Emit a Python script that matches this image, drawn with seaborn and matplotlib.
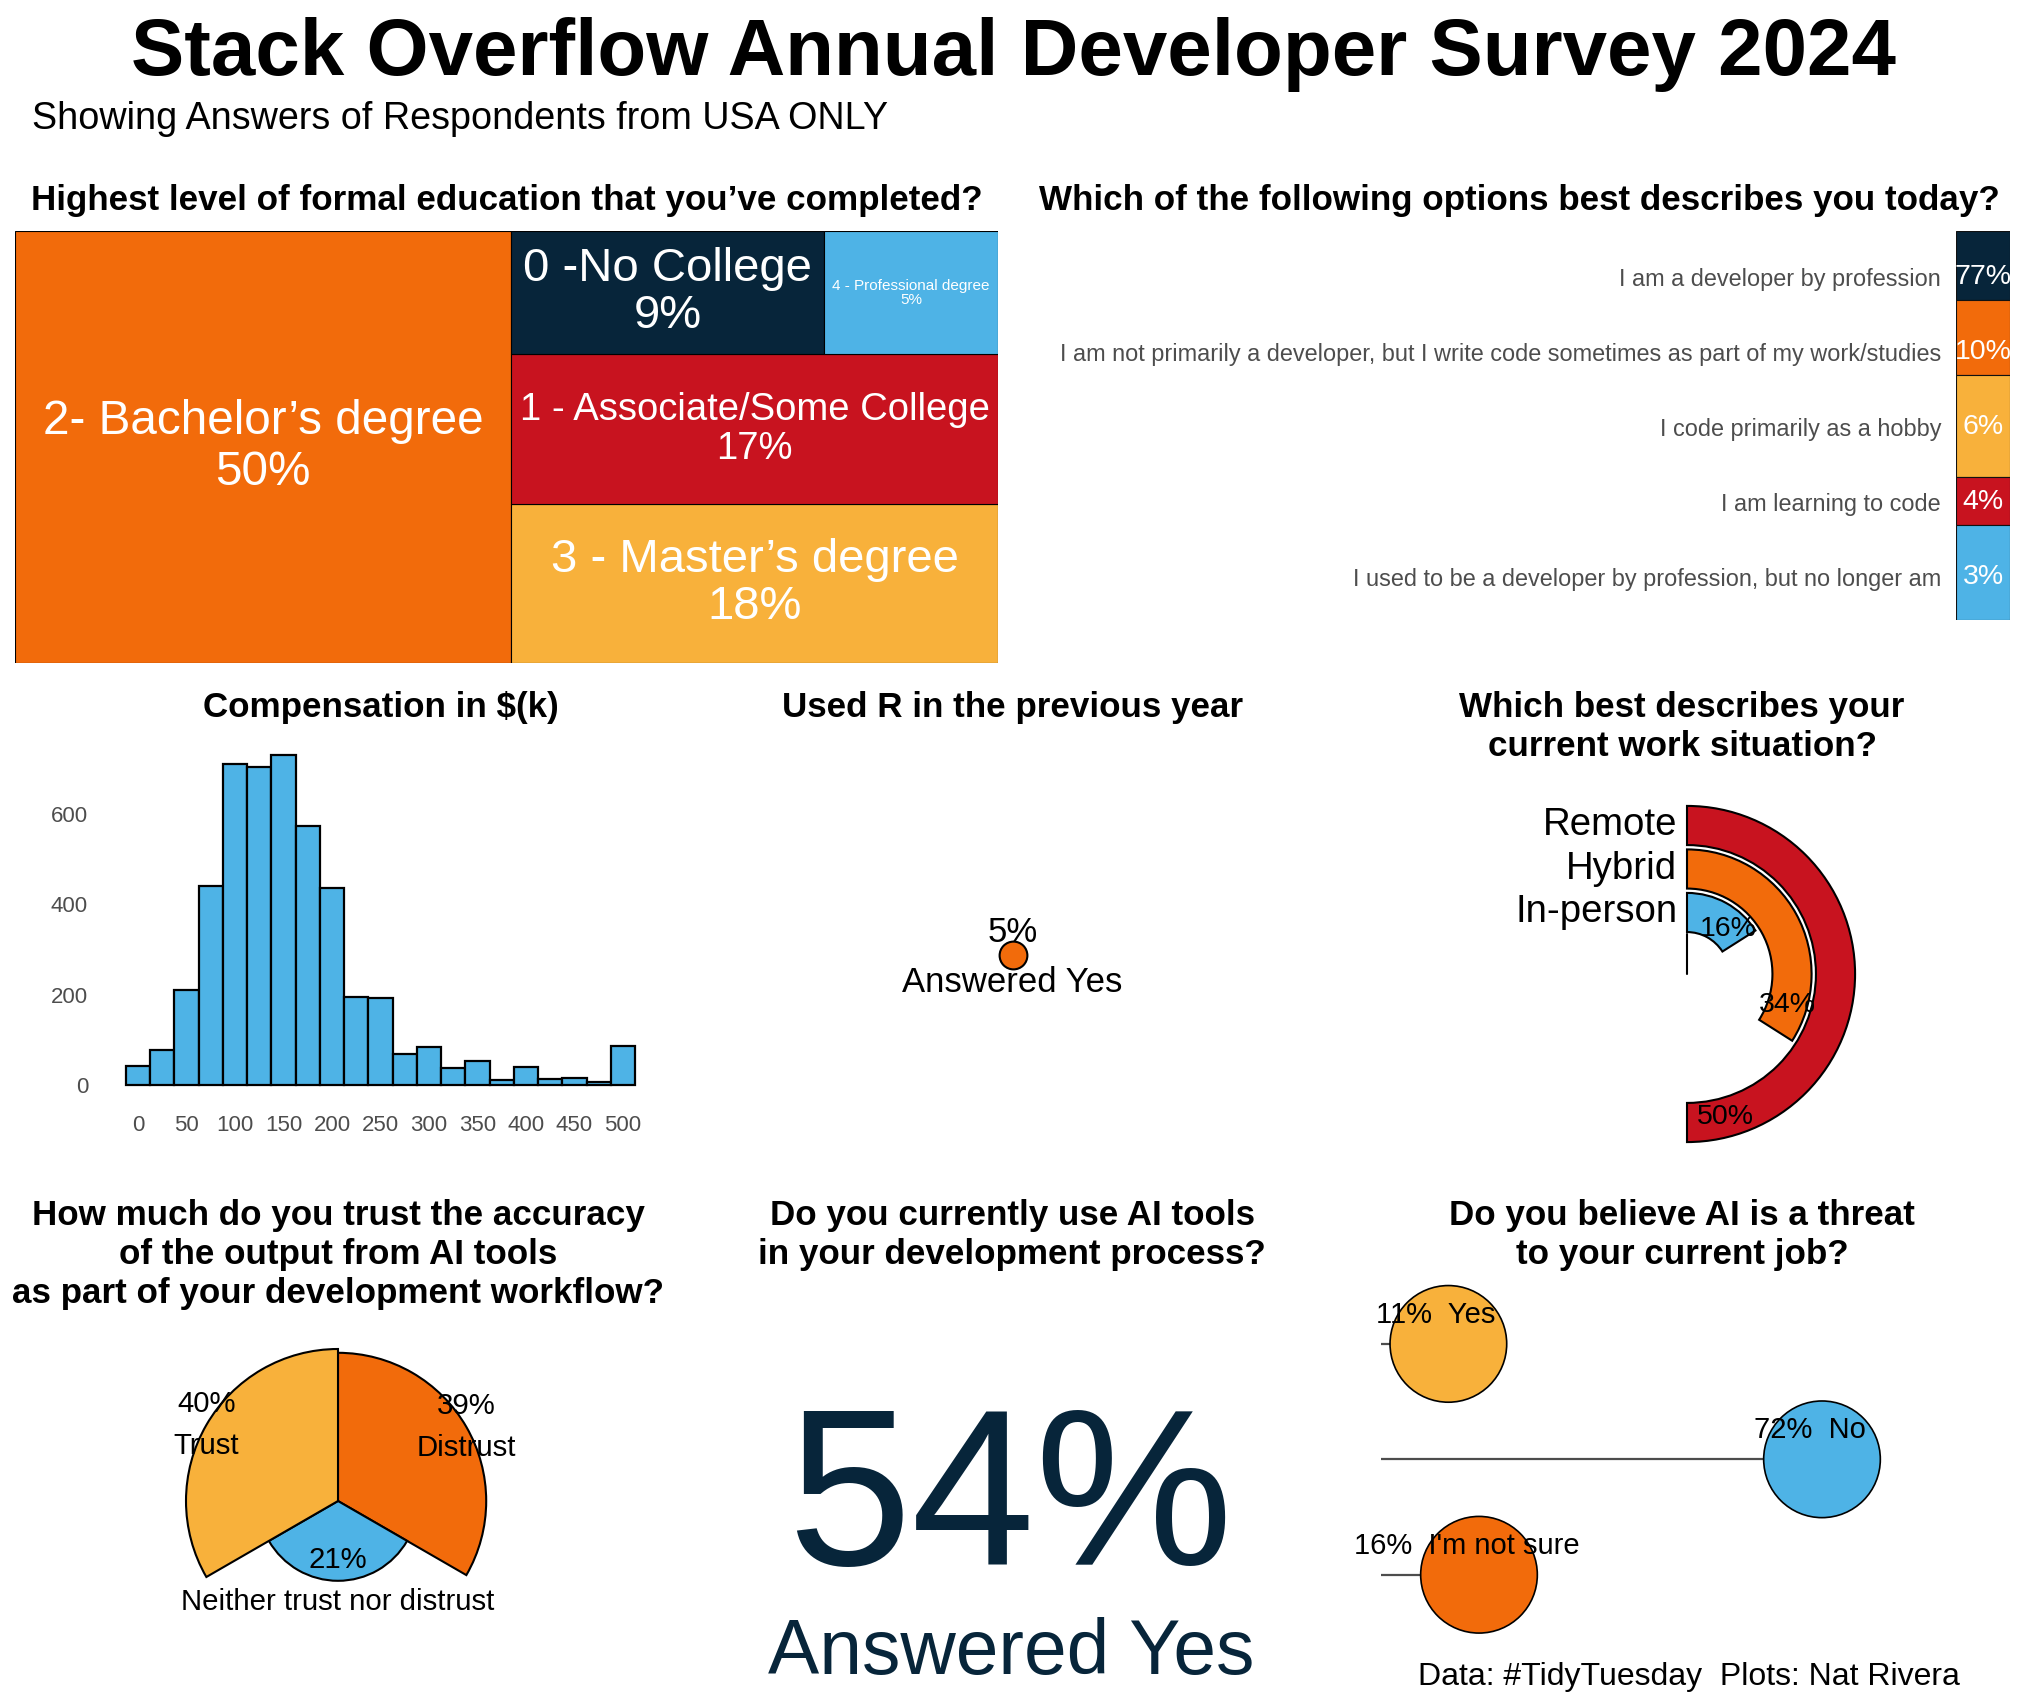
import numpy as np
import pandas as pd
import matplotlib
matplotlib.use("Agg")
import matplotlib.pyplot as plt
import seaborn as sns
from matplotlib.patches import Rectangle

# ---------------- data ----------------
edu_labels = ["2- Bachelor’s degree", "3 - Master’s degree", "1 - Associate/Some College",
              "0 -No College", "4 - Professional degree"]
edu_pct = [50, 18, 17, 9, 5]

dev_labels = ["I am a developer by profession",
              "I am not primarily a developer, but I write code sometimes as part of my work/studies",
              "I code primarily as a hobby",
              "I am learning to code",
              "I used to be a developer by profession, but no longer am"]
dev_pct = [77, 10, 6, 4, 3]
dev_tile = [0.92, 1.0, 1.35, 0.64, 1.26]   # tile heights as drawn in the source

comp_bins = [0, 25, 50, 75, 100, 125, 150, 175, 200, 225, 250, 275, 300, 325, 350,
             375, 400, 425, 450, 475, 500]
comp_counts = [43, 78, 211, 441, 711, 705, 731, 574, 437, 195, 193, 68, 85, 37, 54,
               11, 39, 13, 15, 6, 87]

r_used_pct = 5
ai_use_pct = 54

work_labels = ["In-person", "Hybrid", "Remote"]
work_pct = [16, 34, 50]

trust_labels = ["Distrust", "Neither trust nor distrust", "Trust"]
trust_pct = [39, 21, 40]

threat_labels = ["Yes", "No", "I'm not sure"]
threat_pct = [11, 72, 16]

# ---------------- style ----------------
NAVY = "#07253A"
ORANGE = "#F26B0B"
YELLOW = "#F8B13B"
RED = "#C8131F"
BLUE = "#4EB3E6"
GREY = "#4D4D4D"

sns.set_theme(style="white")
plt.rcParams["font.family"] = ["Liberation Sans", "DejaVu Sans"]
plt.rcParams["text.color"] = "black"

W, H = 2026, 1694
fig = plt.figure(figsize=(W / 100, H / 100), dpi=100)


def box(l, t, r, b, **kw):
    return fig.add_axes([l / W, 1 - b / H, (r - l) / W, (b - t) / H], **kw)


def ftext(x, y, s, **kw):
    return fig.text(x / W, 1 - y / H, s, **kw)


def heading(lines, cx, y0, step=38.8):
    for i, line in enumerate(lines):
        ftext(cx, y0 + i * step, line, ha="center", va="baseline",
              fontsize=25.2, fontweight="bold", color="black")


# titles
ftext(1013, 75, "Stack Overflow Annual Developer Survey 2024", ha="center", va="baseline",
      fontsize=57.5, fontweight="bold")
ftext(32, 129, "Showing Answers of Respondents from USA ONLY", ha="left", va="baseline",
      fontsize=27.2)

# ---------------- treemap: education ----------------
def strip_layout(vals):
    # largest value takes a full-height strip, the rest stack as rows,
    # the two smallest sharing the top row
    total = sum(vals)
    w0 = vals[0] / total
    out = [(0, 0, w0, 1)]
    rest = vals[1:]
    rt = sum(rest)
    y = 0
    for v in rest[:-2]:
        h = v / rt
        out.append((w0, y, 1 - w0, h))
        y += h
    top = rest[-2:]
    h = sum(top) / rt
    x = w0
    for v in top:
        w = (1 - w0) * v / sum(top)
        out.append((x, y, w, h))
        x += w
    return out


heading(["Highest level of formal education that you’ve completed?"], 392 * 1.292, 210)
ax = box(15, 231, 998, 663)
edu_colors = [ORANGE, YELLOW, RED, NAVY, BLUE]
edu_fs = [34.3, 34, 27.5, 34, 11]
edu_ls = [1.17, 1.1, 1.1, 1.1, 1.0]
for (x, y, w, h), lab, p, c, fs, ls in zip(strip_layout(edu_pct), edu_labels, edu_pct,
                                           edu_colors, edu_fs, edu_ls):
    ax.add_patch(Rectangle((x, y), w, h, facecolor=c, edgecolor="black", lw=0.8))
    ax.text(x + w / 2, y + h / 2, f"{lab}\n{p}%", ha="center", va="center",
            color="white", fontsize=fs, linespacing=ls)
ax.set_xlim(0, 1)
ax.set_ylim(0, 1)
ax.axis("off")

# ---------------- stacked tiles: developer type ----------------
heading(["Which of the following options best describes you today?"], 1176 * 1.292, 210)
ax = box(1956, 231, 2010, 620)
dev_colors = [NAVY, ORANGE, YELLOW, RED, BLUE]
start = -0.605
bottoms = start + np.concatenate([[0], np.cumsum(dev_tile)[:-1]])
ax.bar([0] * 5, dev_tile, bottom=bottoms, width=1, color=dev_colors,
       edgecolor="#111111", lw=0.8, align="edge")
for i, p in enumerate(dev_pct):
    ax.text(0.5, i, f"{p}%", ha="center", va="center", color="white", fontsize=20.5)
ax.set_xlim(0, 1)
ax.set_ylim(start + sum(dev_tile), start)
ax.set_yticks(range(len(dev_labels)))
ax.set_yticklabels(dev_labels)
ax.set_xticks([])
ax.tick_params(axis="y", length=0, pad=10.8, labelsize=16.9, labelcolor=GREY)
sns.despine(ax=ax, left=True, bottom=True)

# ---------------- histogram: compensation ----------------
heading(["Compensation in $(k)"], 381, 717)
ax = box(113.7, 742, 647.3, 1094)
sns.histplot(x=comp_bins, weights=comp_counts, binwidth=25, binrange=(-12.5, 512.5),
             color=BLUE, edgecolor="black", linewidth=1.6, alpha=1, ax=ax)
ax.set_xlim(-25, 525)
ax.set_ylim(-20, 760)
ax.set_xticks(range(0, 501, 50))
ax.set_yticks([0, 200, 400, 600])
ax.set_xlabel("")
ax.set_ylabel("")
ax.tick_params(axis="both", length=0, labelsize=16, labelcolor=GREY)
ax.tick_params(axis="x", pad=15)
ax.tick_params(axis="y", pad=18.5)
sns.despine(ax=ax, left=True, bottom=True)

# ---------------- R usage ----------------
heading(["Used R in the previous year"], 1013, 717)
ax = box(680, 760, 1345, 1150)
sns.scatterplot(x=[0], y=[0], s=400, color=ORANGE, edgecolor="black", linewidth=1.5, ax=ax)
ax.annotate(f"{r_used_pct}%", (0, 0), xytext=(0, 16), textcoords="offset points",
            ha="center", va="center", fontsize=25)
ax.annotate("Answered Yes", (0, 0), xytext=(0, -20), textcoords="offset points",
            ha="center", va="center", fontsize=25)
ax.set_xlim(-1, 1)
ax.set_ylim(-1, 1)
ax.axis("off")

# ---------------- radial bars: work situation ----------------
heading(["Which best describes your", "current work situation?"], 1682, 717)
ax = box(1512.4, 799.4, 1861.6, 1148.6, projection="polar")
ax.set_theta_zero_location("N")
ax.set_theta_direction(-1)
work_colors = [BLUE, ORANGE, RED]
pos = np.arange(1, len(work_pct) + 1)
theta = np.array(work_pct) / 100 * 2 * np.pi
ax.bar(0, 0.9, width=theta, bottom=pos - 0.45, align="edge", color=work_colors,
       edgecolor="black", lw=1.5)
ax.plot([0, 0], [-0.414, 0.5], color="black", lw=1.5)
for r, lab, p in zip(pos, work_labels, work_pct):
    ax.annotate(lab, (0, r), xytext=(-7, 0), textcoords="offset points",
                ha="right", va="center", fontsize=27.6, annotation_clip=False)
    ax.text((p - 4.2) / 100 * 2 * np.pi, r, f"{p}%", ha="center", va="center", fontsize=20.5)
ax.set_ylim(-0.414, 3.6)
ax.set_axis_off()

# ---------------- coxcomb: trust in AI ----------------
heading(["How much do you trust the accuracy", "of the output from AI tools",
         "as part of your development workflow?"], 338, 1225)
ax = box(167, 1330, 509, 1672, projection="polar")
ax.set_theta_zero_location("N")
ax.set_theta_direction(-1)
step = 2 * np.pi / len(trust_pct)
centers = (np.arange(len(trust_pct)) + 0.5) * step
ax.bar(centers, trust_pct, width=step, bottom=0, color=[ORANGE, BLUE, YELLOW],
       edgecolor="black", lw=1.5)
for c, p, lab in zip(centers, trust_pct, trust_labels):
    ax.text(c, p, f"{p}%\n{lab}", ha="center", va="center", fontsize=21.2, linespacing=1.62)
ax.set_ylim(0, 45)
ax.set_axis_off()

# ---------------- big number: AI usage ----------------
heading(["Do you currently use AI tools", "in your development process?"], 1012, 1225)
ftext(1010, 1565, f"{ai_use_pct}%", ha="center", va="baseline", fontsize=160.5, color=NAVY)
ftext(1011, 1674, "Answered Yes", ha="center", va="baseline", fontsize=55.3, color=NAVY)

# ---------------- lollipop: AI threat ----------------
heading(["Do you believe AI is a threat", "to your current job?"], 1682, 1225)
ax = box(1381, 1240, 1993.5, 1644)
threat = pd.DataFrame({"label": threat_labels, "pct": threat_pct,
                       "pos": np.arange(len(threat_pct))})
ax.hlines(threat["pos"], 0, threat["pct"], color=GREY, lw=1.6, zorder=1)
sns.scatterplot(data=threat, x="pct", y="pos", hue="label",
                palette=dict(zip(threat_labels, [YELLOW, BLUE, ORANGE])),
                s=7056, edgecolor="black", linewidth=1.2, legend=False, ax=ax,
                zorder=3, clip_on=False)
for _, row in threat.iterrows():
    ax.text(row["pct"] - 2, row["pos"] - 0.25, f"{row['pct']}%  {row['label']}",
            ha="center", va="center", fontsize=21, zorder=4)
ax.set_xlim(0, 100)
ax.set_ylim(2.6, -0.9)
ax.axis("off")

ftext(1960, 1685, "Data: #TidyTuesday  Plots: Nat Rivera", ha="right", va="baseline", fontsize=23)

fig.savefig("out.png", dpi=100, facecolor="white")
